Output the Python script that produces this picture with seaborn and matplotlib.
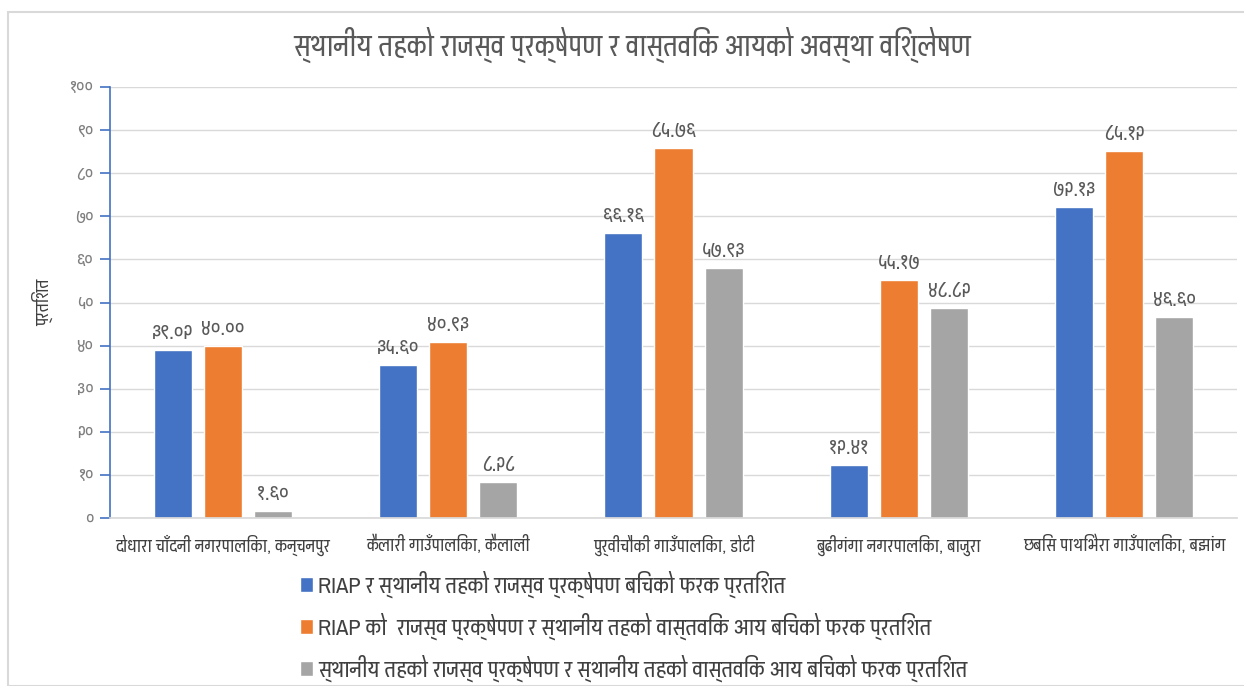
import matplotlib
matplotlib.use("Agg")
import matplotlib.pyplot as plt
from matplotlib.patches import Rectangle
import seaborn as sns
import pandas as pd

# ---------------- data ----------------
categories = [
    "दोधारा चाँदनी नगरपालिका, कन्चनपुर",
    "कैलारी गाउँपालिका, कैलाली",
    "पुर्वीचौकी गाउँपालिका, डोटी",
    "बुढीगंगा नगरपालिका, बाजुरा",
    "छबिस पाथिभेरा गाउँपालिका, बझांग",
]
series_names = [
    "RIAP र स्थानीय तहको राजस्व प्रक्षेपण बिचको फरक प्रतिशत",
    "RIAP को  राजस्व प्रक्षेपण र स्थानीय तहको वास्तविक आय बिचको फरक प्रतिशत",
    "स्थानीय तहको राजस्व प्रक्षेपण र स्थानीय तहको वास्तविक आय बिचको फरक प्रतिशत",
]
riap_vs_local = [39.02, 35.60, 66.16, 12.41, 72.13]
riap_vs_actual = [40.00, 40.93, 85.76, 55.17, 85.12]
local_vs_actual = [1.60, 8.28, 57.93, 48.82, 46.60]
y_ticks = [0, 10, 20, 30, 40, 50, 60, 70, 80, 90, 100]
y_tick_labels = ["०", "१०", "२०", "३०", "४०", "५०", "६०", "७०", "८०", "९०", "१००"]
title = "स्थानीय तहको राजस्व प्रक्षेपण र वास्तविक आयको अवस्था विश्लेषण"
y_label = "प्रतिशत"
colors = ["#4472C4", "#ED7D31", "#A5A5A5"]

DEV_DIGITS = str.maketrans("0123456789", "०१२३४५६७८९")


def dev(v):
    return f"{v:.2f}".translate(DEV_DIGITS)


sns.set_theme(style="white")
plt.rcParams["font.family"] = ["Pragati Narrow", "Noto Sans Devanagari", "DejaVu Sans"]

# ---------------- frame ----------------
rows = []
for name, vals in zip(series_names, [riap_vs_local, riap_vs_actual, local_vs_actual]):
    for c, v in zip(categories, vals):
        rows.append({"cat": c, "series": name, "value": v})
df = pd.DataFrame(rows)

W, H = 1244, 686
fig = plt.figure(figsize=(W / 100, H / 100), dpi=100)
fig.patch.set_facecolor("white")
ax = fig.add_axes([110 / W, 1 - 518 / H, (1237 - 110) / W, (518 - 87) / H])

sns.barplot(data=df, x="cat", y="value", hue="series", order=categories,
            hue_order=series_names, palette=colors, width=0.667, gap=0.24,
            saturation=1, ax=ax, legend=True)

ax.set_ylim(0, 100)
ax.set_xlim(-0.5, 4.5)
ax.set_yticks(y_ticks)
ax.set_yticklabels(y_tick_labels)
ax.yaxis.grid(True, color="#D9D9D9", lw=1)
ax.set_axisbelow(True)
for s in ["top", "right"]:
    ax.spines[s].set_visible(False)
ax.spines["bottom"].set_color("#D9D9D9")
ax.spines["left"].set_color("#4472C4")
ax.spines["left"].set_linewidth(1.2)
ax.tick_params(axis="y", colors="#4472C4", length=7, width=1.2, direction="out",
               labelcolor="#7F7F7F", labelsize=14, pad=5, left=True)
ax.tick_params(axis="x", length=0, labelsize=13.5, labelcolor="#404040", pad=12)
ax.set_xlabel("")
ax.set_ylabel(y_label, fontsize=13.5, color="#404040", labelpad=12)

for cont in ax.containers:
    ax.bar_label(cont, labels=[dev(b.get_height()) for b in cont], padding=5,
                 fontsize=16, color="#595959")

handles, labels = ax.get_legend_handles_labels()
ax.get_legend().remove()
fig.legend(handles, labels, loc="upper left", bbox_to_anchor=(278 / W, 1 - 549 / H),
           frameon=False, fontsize=17.5, handlelength=0.55, handleheight=0.55,
           handletextpad=0.2, labelspacing=0.6, labelcolor="#404040")

fig.text(632 / W, 1 - 45 / H, title, ha="center", va="center", fontsize=22.3, color="#595959")

fig.patches.append(Rectangle((8 / W, 0), 2, 1 - 12 / H, transform=fig.transFigure,
                             fill=False, edgecolor="#D9D9D9", lw=1.5))

fig.savefig("out.png", dpi=100)
